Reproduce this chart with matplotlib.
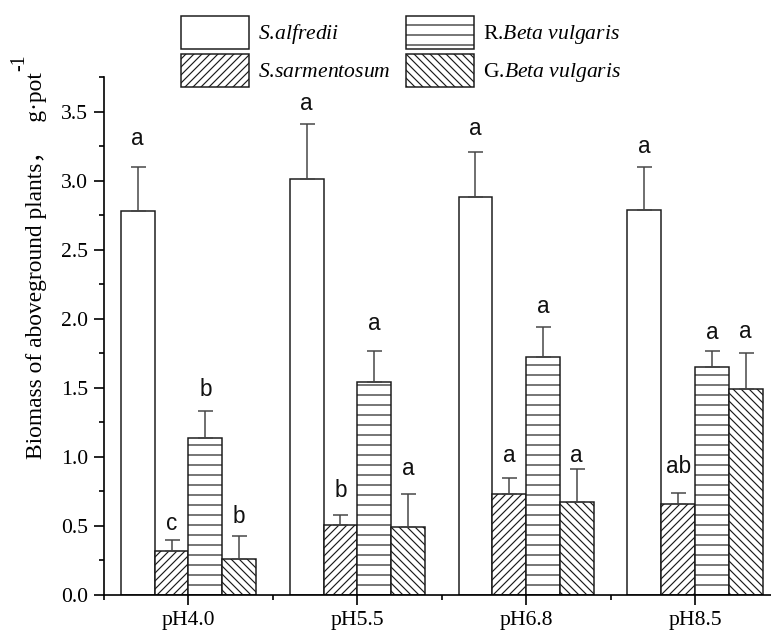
import matplotlib
matplotlib.use('Agg')
import matplotlib.pyplot as plt
import numpy as np
from matplotlib.ticker import MultipleLocator

# data
groups = ['pH4.0', 'pH5.5', 'pH6.8', 'pH8.5']
species = ['S.alfredii', 'S.sarmentosum', 'R.Beta vulgaris', 'G.Beta vulgaris']

alfredii = [2.78, 3.01, 2.88, 2.79]
alfredii_err = [0.32, 0.40, 0.33, 0.31]
sarmentosum = [0.32, 0.51, 0.73, 0.66]
sarmentosum_err = [0.08, 0.07, 0.12, 0.08]
r_beta = [1.14, 1.54, 1.72, 1.65]
r_beta_err = [0.19, 0.23, 0.22, 0.12]
g_beta = [0.26, 0.49, 0.67, 1.49]
g_beta_err = [0.17, 0.24, 0.24, 0.26]

letters = [['a', 'a', 'a', 'a'],
           ['c', 'b', 'a', 'ab'],
           ['b', 'a', 'a', 'a'],
           ['b', 'a', 'a', 'a']]
letter_y = [[3.26, 3.51, 3.33, 3.20],
            [0.47, 0.71, 0.96, 0.88],
            [1.44, 1.92, 2.04, 1.85],
            [0.52, 0.87, 0.96, 1.86]]

plt.rcParams['hatch.linewidth'] = 0.7
plt.rcParams['mathtext.fontset'] = 'custom'
plt.rcParams['mathtext.rm'] = 'Liberation Serif'
plt.rcParams['mathtext.it'] = 'Liberation Serif:italic'
plt.rcParams['font.family'] = ['Liberation Serif', 'Noto Sans CJK SC']

W, H, DPI = 771, 633, 120
fig = plt.figure(figsize=(W / DPI, H / DPI), dpi=DPI)
ax = fig.add_axes([104 / W, 38 / H, (W - 104) / W, (595 - 77) / H])

x = np.arange(1, len(groups) + 1)
w = 0.2
vals = [alfredii, sarmentosum, r_beta, g_beta]
errs = [alfredii_err, sarmentosum_err, r_beta_err, g_beta_err]
hatches = ['', '/////', '--', '\\\\\\\\\\']
labels = ['$\\mathit{S}$.$\\mathit{alfredii}$', '$\\mathit{S}$.$\\mathit{sarmentosum}$',
          'R.$\\mathit{Beta\\ vulgaris}$', 'G.$\\mathit{Beta\\ vulgaris}$']

handles = []
for i in range(4):
    pos = x + (i - 1.5) * w
    b = ax.bar(pos, vals[i], w, color='white', edgecolor='#1a1a1a', linewidth=0.9,
               hatch=hatches[i], label=labels[i], zorder=2)
    handles.append(b)
    ax.errorbar(pos, vals[i], yerr=[np.zeros(4), errs[i]], fmt='none',
                ecolor='#444444', elinewidth=0.9, capsize=4.5, capthick=0.9, zorder=3)
    for j in range(4):
        ax.text(pos[j], letter_y[i][j], letters[i][j], ha='center', va='baseline',
                fontsize=13.5, family='Liberation Sans', color='#111111')

ax.set_xlim(0.5, 4.45)
ax.set_ylim(0, 3.75)
ax.set_xticks(x)
ax.set_xticklabels(groups, fontsize=13)
ax.set_xticks([0.5, 1.5, 2.5, 3.5], minor=True)
ax.yaxis.set_major_locator(MultipleLocator(0.5))
ax.yaxis.set_minor_locator(MultipleLocator(0.25))
ax.tick_params(axis='both', which='major', direction='out', length=6, width=1, labelsize=13)
ax.tick_params(axis='both', which='minor', direction='out', length=3, width=1)
ax.yaxis.set_major_formatter(matplotlib.ticker.FormatStrFormatter('%.1f'))
for s in ['top', 'right']:
    ax.spines[s].set_visible(False)
for s in ['left', 'bottom']:
    ax.spines[s].set_linewidth(1.0)

fs_px = 13 * DPI / 72
fig.legend(handles=handles, labels=labels, ncol=2, frameon=False, fontsize=13,
           loc='upper left', bbox_to_anchor=(170 / W, 1 - 5 / H), borderpad=0,
           handlelength=68 / fs_px, handleheight=2.0, handletextpad=0.4,
           labelspacing=0.2, columnspacing=16 / fs_px)

lab = fig.text(37 / W, 1 - 266 / H, 'Biomass of aboveground plants，   g·pot',
               rotation=90, ha='center', va='center', fontsize=14)
fig.canvas.draw()
bb = lab.get_window_extent(fig.canvas.get_renderer())
fig.text((bb.x0 + 3) / W, (bb.y1 + 2) / H, '-1', rotation=90, ha='right', va='bottom',
         fontsize=12)

fig.savefig('out.png', dpi=DPI)
